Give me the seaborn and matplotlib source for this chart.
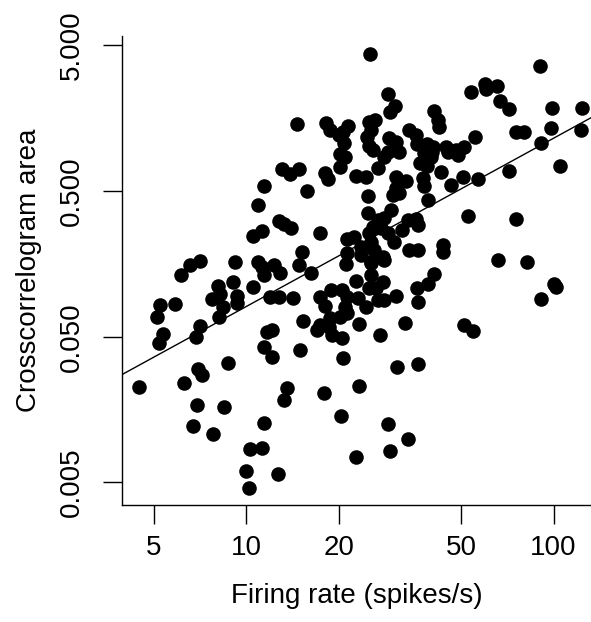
import numpy as np
import pandas as pd
import matplotlib
matplotlib.use("Agg")
import matplotlib.pyplot as plt
import seaborn as sns

# Firing rate (spikes/s) and crosscorrelogram area
firing_rate = [
    25.3, 90.4, 14.6, 18.2, 18.8, 20.1, 21.5, 20.7, 20.8, 20.2,
    21.0, 20.2, 29.0, 30.5, 29.4, 40.9, 42.1, 42.4, 25.1, 26.3,
    25.5, 24.7, 25.1, 25.9, 33.9, 35.7, 36.0, 38.8, 40.6, 37.9,
    40.0, 36.8, 38.8, 40.3, 29.2, 30.8, 29.0, 28.1, 31.5, 44.7,
    45.4, 48.2, 51.2, 48.9, 55.6, 53.9, 59.9, 60.3, 65.5, 67.0,
    71.7, 98.9, 124, 75.5, 80.2, 98.1, 123, 91.1, 105, 71.7,
    56.8, 50.8, 46.4, 43.1, 22.8, 24.6, 26.9, 30.8, 33.1, 30.8,
    31.5, 30.1, 37.6, 37.9, 24.9, 13.1, 13.9, 14.9, 18.1, 18.5,
    11.4, 15.8, 10.9, 12.8, 13.3, 14.0, 10.5, 11.3, 17.4, 21.3,
    22.5, 39.1, 29.6, 24.9, 26.9, 28.1, 25.9, 27.5, 29.0, 30.3,
    25.1, 33.6, 35.7, 36.3, 32.2, 52.7, 75.5, 23.7, 25.5, 26.1,
    15.2, 21.3, 23.7, 25.5, 27.9, 33.9, 36.3, 43.7, 43.7, 66.0,
    82.0, 7.09, 6.57, 6.15, 9.21, 11.3, 10.9, 11.4, 12.3, 12.9,
    14.9, 16.3, 21.2, 25.5, 28.1, 25.5, 27.9, 40.9, 39.1, 36.0,
    22.8, 25.1, 26.5, 8.11, 7.76, 8.23, 9.07, 9.35, 10.5, 12.0,
    12.8, 14.2, 17.4, 18.9, 20.5, 21.3, 23.1, 26.9, 28.1, 30.8,
    100, 102, 91.1, 5.25, 5.88, 5.13, 5.37, 5.21, 7.09, 6.87,
    8.42, 8.17, 9.35, 18.1, 21.0, 21.3, 20.2, 18.8, 18.6, 17.4,
    17.0, 19.0, 20.5, 15.3, 12.1, 11.7, 11.4, 12.1, 15.0, 20.7,
    24.6, 36.3, 32.9, 23.3, 27.3, 51.2, 54.7, 8.74, 31.0, 36.3,
    4.49, 6.29, 6.98, 7.20, 13.6, 13.3, 17.9, 20.4, 6.92, 8.48,
    6.72, 7.81, 11.4, 10.3, 11.3, 22.8, 10.0, 12.7, 10.2, 23.3,
    29.0, 33.6, 29.4,
]
ccg_area = [
    4.35, 3.59, 1.44, 1.46, 1.31, 1.21, 1.39, 1.27, 1.07, 0.896,
    0.855, 0.730, 2.31, 1.91, 1.74, 1.77, 1.53, 1.37, 1.48, 1.53,
    1.31, 1.17, 1.02, 0.954, 1.31, 1.21, 1.05, 1.05, 1.00, 0.910,
    0.855, 0.777, 0.741, 0.924, 1.15, 1.08, 0.924, 0.855, 0.924, 1.00,
    0.924, 0.954, 1.00, 0.882, 1.17, 2.38, 2.70, 2.50, 2.62, 2.07,
    1.82, 1.85, 1.85, 1.27, 1.27, 1.35, 1.31, 1.07, 0.741, 0.685,
    0.604, 0.623, 0.549, 0.674, 0.633, 0.623, 0.718, 0.623, 0.585, 0.524,
    0.484, 0.469, 0.613, 0.540, 0.461, 0.707, 0.653, 0.707, 0.664, 0.604,
    0.540, 0.499, 0.400, 0.311, 0.296, 0.278, 0.245, 0.265, 0.257, 0.234,
    0.242, 0.433, 0.370, 0.353, 0.316, 0.326, 0.283, 0.278, 0.257, 0.223,
    0.257, 0.316, 0.321, 0.292, 0.270, 0.337, 0.321, 0.206, 0.223, 0.197,
    0.191, 0.188, 0.182, 0.163, 0.176, 0.197, 0.197, 0.213, 0.191, 0.168,
    0.163, 0.165, 0.155, 0.133, 0.163, 0.150, 0.163, 0.133, 0.155, 0.137,
    0.155, 0.137, 0.158, 0.160, 0.168, 0.133, 0.119, 0.135, 0.115, 0.108,
    0.120, 0.108, 0.108, 0.111, 0.0907, 0.0981, 0.119, 0.0951, 0.110, 0.0936,
    0.0936, 0.0921, 0.0936, 0.105, 0.105, 0.0936, 0.0921, 0.0893, 0.0893, 0.0951,
    0.115, 0.110, 0.0907, 0.0825, 0.0838, 0.0683, 0.0522, 0.0453, 0.0592, 0.0498,
    0.0800, 0.0683, 0.0852, 0.0812, 0.0800, 0.0727, 0.0683, 0.0672, 0.0583, 0.0602,
    0.0556, 0.0514, 0.0490, 0.0641, 0.0556, 0.0539, 0.0425, 0.0363, 0.0405, 0.0357,
    0.0800, 0.0865, 0.0621, 0.0611, 0.0514, 0.0602, 0.0547, 0.0330, 0.0310, 0.0325,
    0.0226, 0.0240, 0.0300, 0.0274, 0.0222, 0.0184, 0.0206, 0.0143, 0.0170, 0.0165,
    0.0122, 0.0108, 0.0128, 0.00849, 0.00862, 0.00748, 0.00600, 0.00572, 0.00458, 0.0229,
    0.0126, 0.00994, 0.00822,
]

x_ticks = [5, 10, 20, 50, 100]
x_labels = ["5", "10", "20", "50", "100"]
y_ticks = [0.005, 0.05, 0.5, 5]
y_labels = ["0.005", "0.050", "0.500", "5.000"]

df = pd.DataFrame({"rate": firing_rate, "area": ccg_area})

sns.set_style("ticks")
plt.rcParams["font.family"] = ["Liberation Sans", "DejaVu Sans"]
plt.rcParams["text.color"] = "black"
plt.rcParams["axes.labelcolor"] = "black"

fig = plt.figure(figsize=(5.91, 6.22), dpi=100)
ax = fig.add_axes([0.206, 0.188, 0.794, 0.754])

sns.scatterplot(data=df, x="rate", y="area", ax=ax, color="black",
                s=110, linewidth=0, legend=False, zorder=3)

ax.set_xscale("log")
ax.set_yscale("log")
ax.set_xlim(3.94, 132.4)
ax.set_ylim(0.0035, 5.77)

# least-squares line in log-log space
slope, intercept = np.polyfit(np.log10(df["rate"]), np.log10(df["area"]), 1)
ax.axline((10, 10 ** (intercept + slope)), (100, 10 ** (intercept + 2 * slope)),
          color="black", linewidth=1.0, zorder=2)

ax.set_xticks(x_ticks)
ax.set_xticklabels(x_labels)
ax.set_yticks(y_ticks)
ax.set_yticklabels(y_labels, rotation=90, va="center")
ax.minorticks_off()
ax.tick_params(axis="both", direction="out", length=13.5, width=1.0,
               labelsize=20, color="black", labelcolor="black")
ax.tick_params(axis="x", pad=8)
ax.tick_params(axis="y", pad=13)

ax.set_xlabel("Firing rate (spikes/s)", fontsize=20, labelpad=16, color="black")
ax.set_ylabel("Crosscorrelogram area", fontsize=20, labelpad=12, color="black")

sns.despine(ax=ax)
for side in ["left", "bottom"]:
    ax.spines[side].set_color("black")
    ax.spines[side].set_linewidth(1.0)

fig.savefig("out.png", dpi=100)
